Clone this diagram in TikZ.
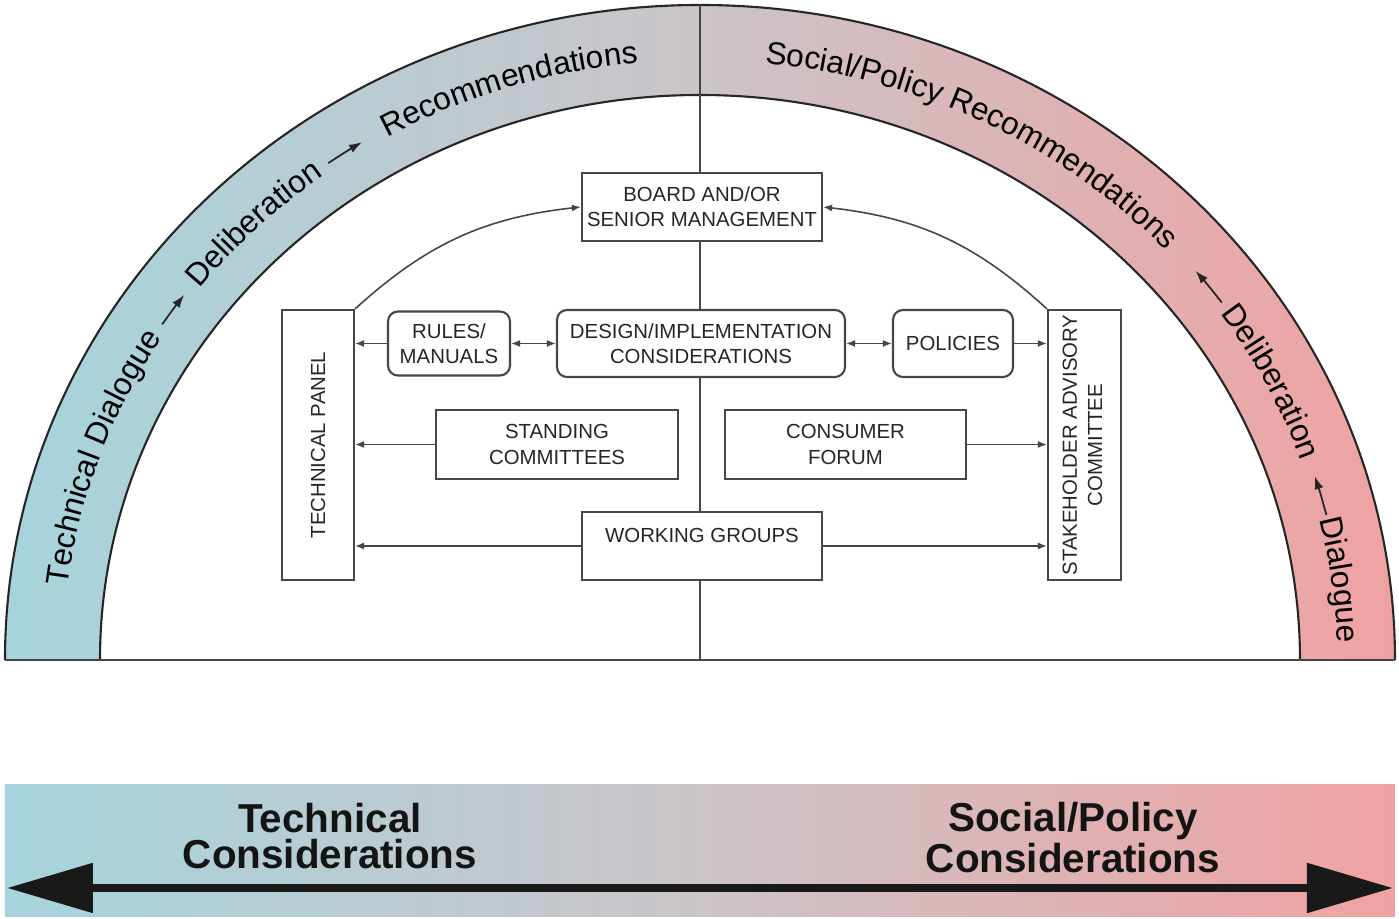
\documentclass[tikz,border=0pt]{standalone}
\usepackage{fontspec}
\setmainfont{Liberation Sans}
\usepackage{graphicx}
\usepackage{color}
\usetikzlibrary{arrows.meta,decorations.text}

\definecolor{techTeal}{RGB}{166,212,220}
\definecolor{midGrey}{RGB}{203,196,200}
\definecolor{policyPink}{RGB}{240,162,162}
\definecolor{lineGrey}{RGB}{70,70,70}

\newcommand{\boxfont}{\fontsize{5.8}{7.2}\selectfont}
\newcommand{\arcfont}{\fontsize{9}{10}\selectfont}
\newcommand{\barfont}{\fontsize{11.5}{10}\selectfont\bfseries}

\tikzset{
  box/.style={draw=lineGrey, line width=0.6pt, fill=white, inner sep=0pt, align=center, font=\boxfont, text=black!85},
  rbox/.style={box, rounded corners=1mm},
  link/.style={draw=lineGrey, line width=0.45pt, -{Latex[length=0.9mm,width=0.7mm]}},
  dlink/.style={draw=lineGrey, line width=0.45pt, {Latex[length=0.9mm,width=0.7mm]}-{Latex[length=0.9mm,width=0.7mm]}},
  arclink/.style={draw=black!85, line width=0.5pt, -{Latex[length=1.3mm,width=0.9mm]}},
}

\begin{document}
\begin{tikzpicture}
  \useasboundingbox[fill=white] (-7.00,-2.59) rectangle (6.99,6.60);

  % Band
  \shade[left color=techTeal, right color=policyPink, middle color=midGrey]
    (-6.95,0) arc[start angle=180, end angle=0, x radius=6.95, y radius=6.55]
    -- (6.00,0) arc[start angle=0, end angle=180, x radius=6.00, y radius=5.65] -- cycle;
  \draw[black!85, line width=0.6pt] (-6.95,0) arc[start angle=180, end angle=0, x radius=6.95, y radius=6.55];
  \draw[black!85, line width=0.6pt] (-6.00,0) arc[start angle=180, end angle=0, x radius=6.00, y radius=5.65];
  \coordinate (apex) at (0,6.55);
  \coordinate (foot) at (0,0);
  \coordinate (baseL) at (-6.95,0);
  \coordinate (baseR) at (6.95,0);
  \draw[lineGrey, line width=0.8pt] (baseL) -- (baseR);
  \draw[lineGrey, line width=0.6pt] (apex) -- (foot);

  % Band text
  \path[decorate, decoration={text along path, text align=center, text={|\arcfont|Technical Dialogue}}]
    (177.3:6.375 and 6.0) arc[start angle=177.3, end angle=143.3, x radius=6.375, y radius=6.0];
  \draw[arclink] (146.5:6.45 and 6.08) arc[start angle=146.5, end angle=143.1, x radius=6.45, y radius=6.08];
  \path[decorate, decoration={text along path, text align=center, text={|\arcfont|Deliberation}}]
    (147:6.375 and 6.0) arc[start angle=147, end angle=121, x radius=6.375, y radius=6.0];
  \draw[arclink] (125.2:6.45 and 6.08) arc[start angle=125.2, end angle=121.6, x radius=6.45, y radius=6.08];
  \path[decorate, decoration={text along path, text align=center, text={|\arcfont|Recommendations}}]
    (124.5:6.375 and 6.0) arc[start angle=124.5, end angle=90.5, x radius=6.375, y radius=6.0];

  \path[decorate, decoration={text along path, text align=center, text={|\arcfont|Social/Policy Recommendations}}]
    (89.5:6.375 and 6.0) arc[start angle=89.5, end angle=37.5, x radius=6.375, y radius=6.0];
  \draw[arclink] (36:6.45 and 6.08) arc[start angle=36, end angle=39.8, x radius=6.45, y radius=6.08];
  \path[decorate, decoration={text along path, text align=center, text={|\arcfont|Deliberation}}]
    (39.3:6.375 and 6.0) arc[start angle=39.3, end angle=15.3, x radius=6.375, y radius=6.0];
  \draw[arclink] (13.8:6.45 and 6.08) arc[start angle=13.8, end angle=17.6, x radius=6.45, y radius=6.08];
  \path[decorate, decoration={text along path, text align=center, text={|\arcfont|Dialogue}}]
    (15.6:6.375 and 6.0) arc[start angle=15.6, end angle=-0.4, x radius=6.375, y radius=6.0];

  % Nodes
  \node[box, minimum width=2.40cm, minimum height=0.68cm] (board) at (0.02,4.53) {BOARD AND/OR\\SENIOR MANAGEMENT};
  \node[box, minimum width=0.72cm, minimum height=2.70cm] (techPanel) at (-3.82,2.15) {\rotatebox{90}{TECHNICAL PANEL}};
  \node[box, minimum width=0.73cm, minimum height=2.70cm] (stakeholder) at (3.845,2.15)
    {\rotatebox{90}{\begin{tabular}{@{}c@{}}STAKEHOLDER ADVISORY\\COMMITTEE\end{tabular}}};
  \node[rbox, minimum width=1.22cm, minimum height=0.64cm] (rules) at (-2.51,3.165) {RULES/\\MANUALS};
  \node[rbox, minimum width=2.88cm, minimum height=0.67cm] (design) at (0.01,3.165) {DESIGN/IMPLEMENTATION\\CONSIDERATIONS};
  \node[rbox, minimum width=1.20cm, minimum height=0.67cm] (policies) at (2.53,3.165) {POLICIES};
  \node[box, minimum width=2.42cm, minimum height=0.69cm] (standing) at (-1.43,2.155) {STANDING\\COMMITTEES};
  \node[box, minimum width=2.41cm, minimum height=0.69cm] (consumer) at (1.455,2.155) {CONSUMER\\FORUM};
  \node[box, minimum width=2.40cm, minimum height=0.68cm, text height=1.5mm, text depth=2.2mm] (working) at (0.02,1.14) {WORKING GROUPS};

  % Edges
  \draw[link] (techPanel.north east) to[bend left=18] (board.west);
  \draw[link] (stakeholder.north west) to[bend right=18] (board.east);
  \draw[link] (rules.west) -- (rules.west -| techPanel.east);
  \draw[dlink] (rules) -- (design);
  \draw[dlink] (design) -- (policies);
  \draw[link] (policies.east) -- (policies.east -| stakeholder.west);
  \draw[link] (standing.west) -- (standing.west -| techPanel.east);
  \draw[link] (consumer.east) -- (consumer.east -| stakeholder.west);
  \draw[link] (working.west) -- (working.west -| techPanel.east);
  \draw[link] (working.east) -- (working.east -| stakeholder.west);

  % Bottom bar
  \shade[left color=techTeal, right color=policyPink, middle color=midGrey] (-6.95,-1.25) rectangle (6.95,-2.57);
  \coordinate (leftEnd) at (-6.93,-2.28);
  \coordinate (rightEnd) at (6.93,-2.28);
  \draw[black!90, line width=2.4pt, {Triangle[length=8.6mm,width=4.8mm]}-{Triangle[length=8.6mm,width=4.8mm]}] (leftEnd) -- (rightEnd);
  \node[font=\barfont, align=center, text=black!92] (techCons) at (-3.70,-1.76) {Technical\\Considerations};
  \node[font=\barfont, align=center, text=black!92] (socialCons) at (3.73,-1.775) {Social/Policy\\Considerations};
\end{tikzpicture}
\end{document}
